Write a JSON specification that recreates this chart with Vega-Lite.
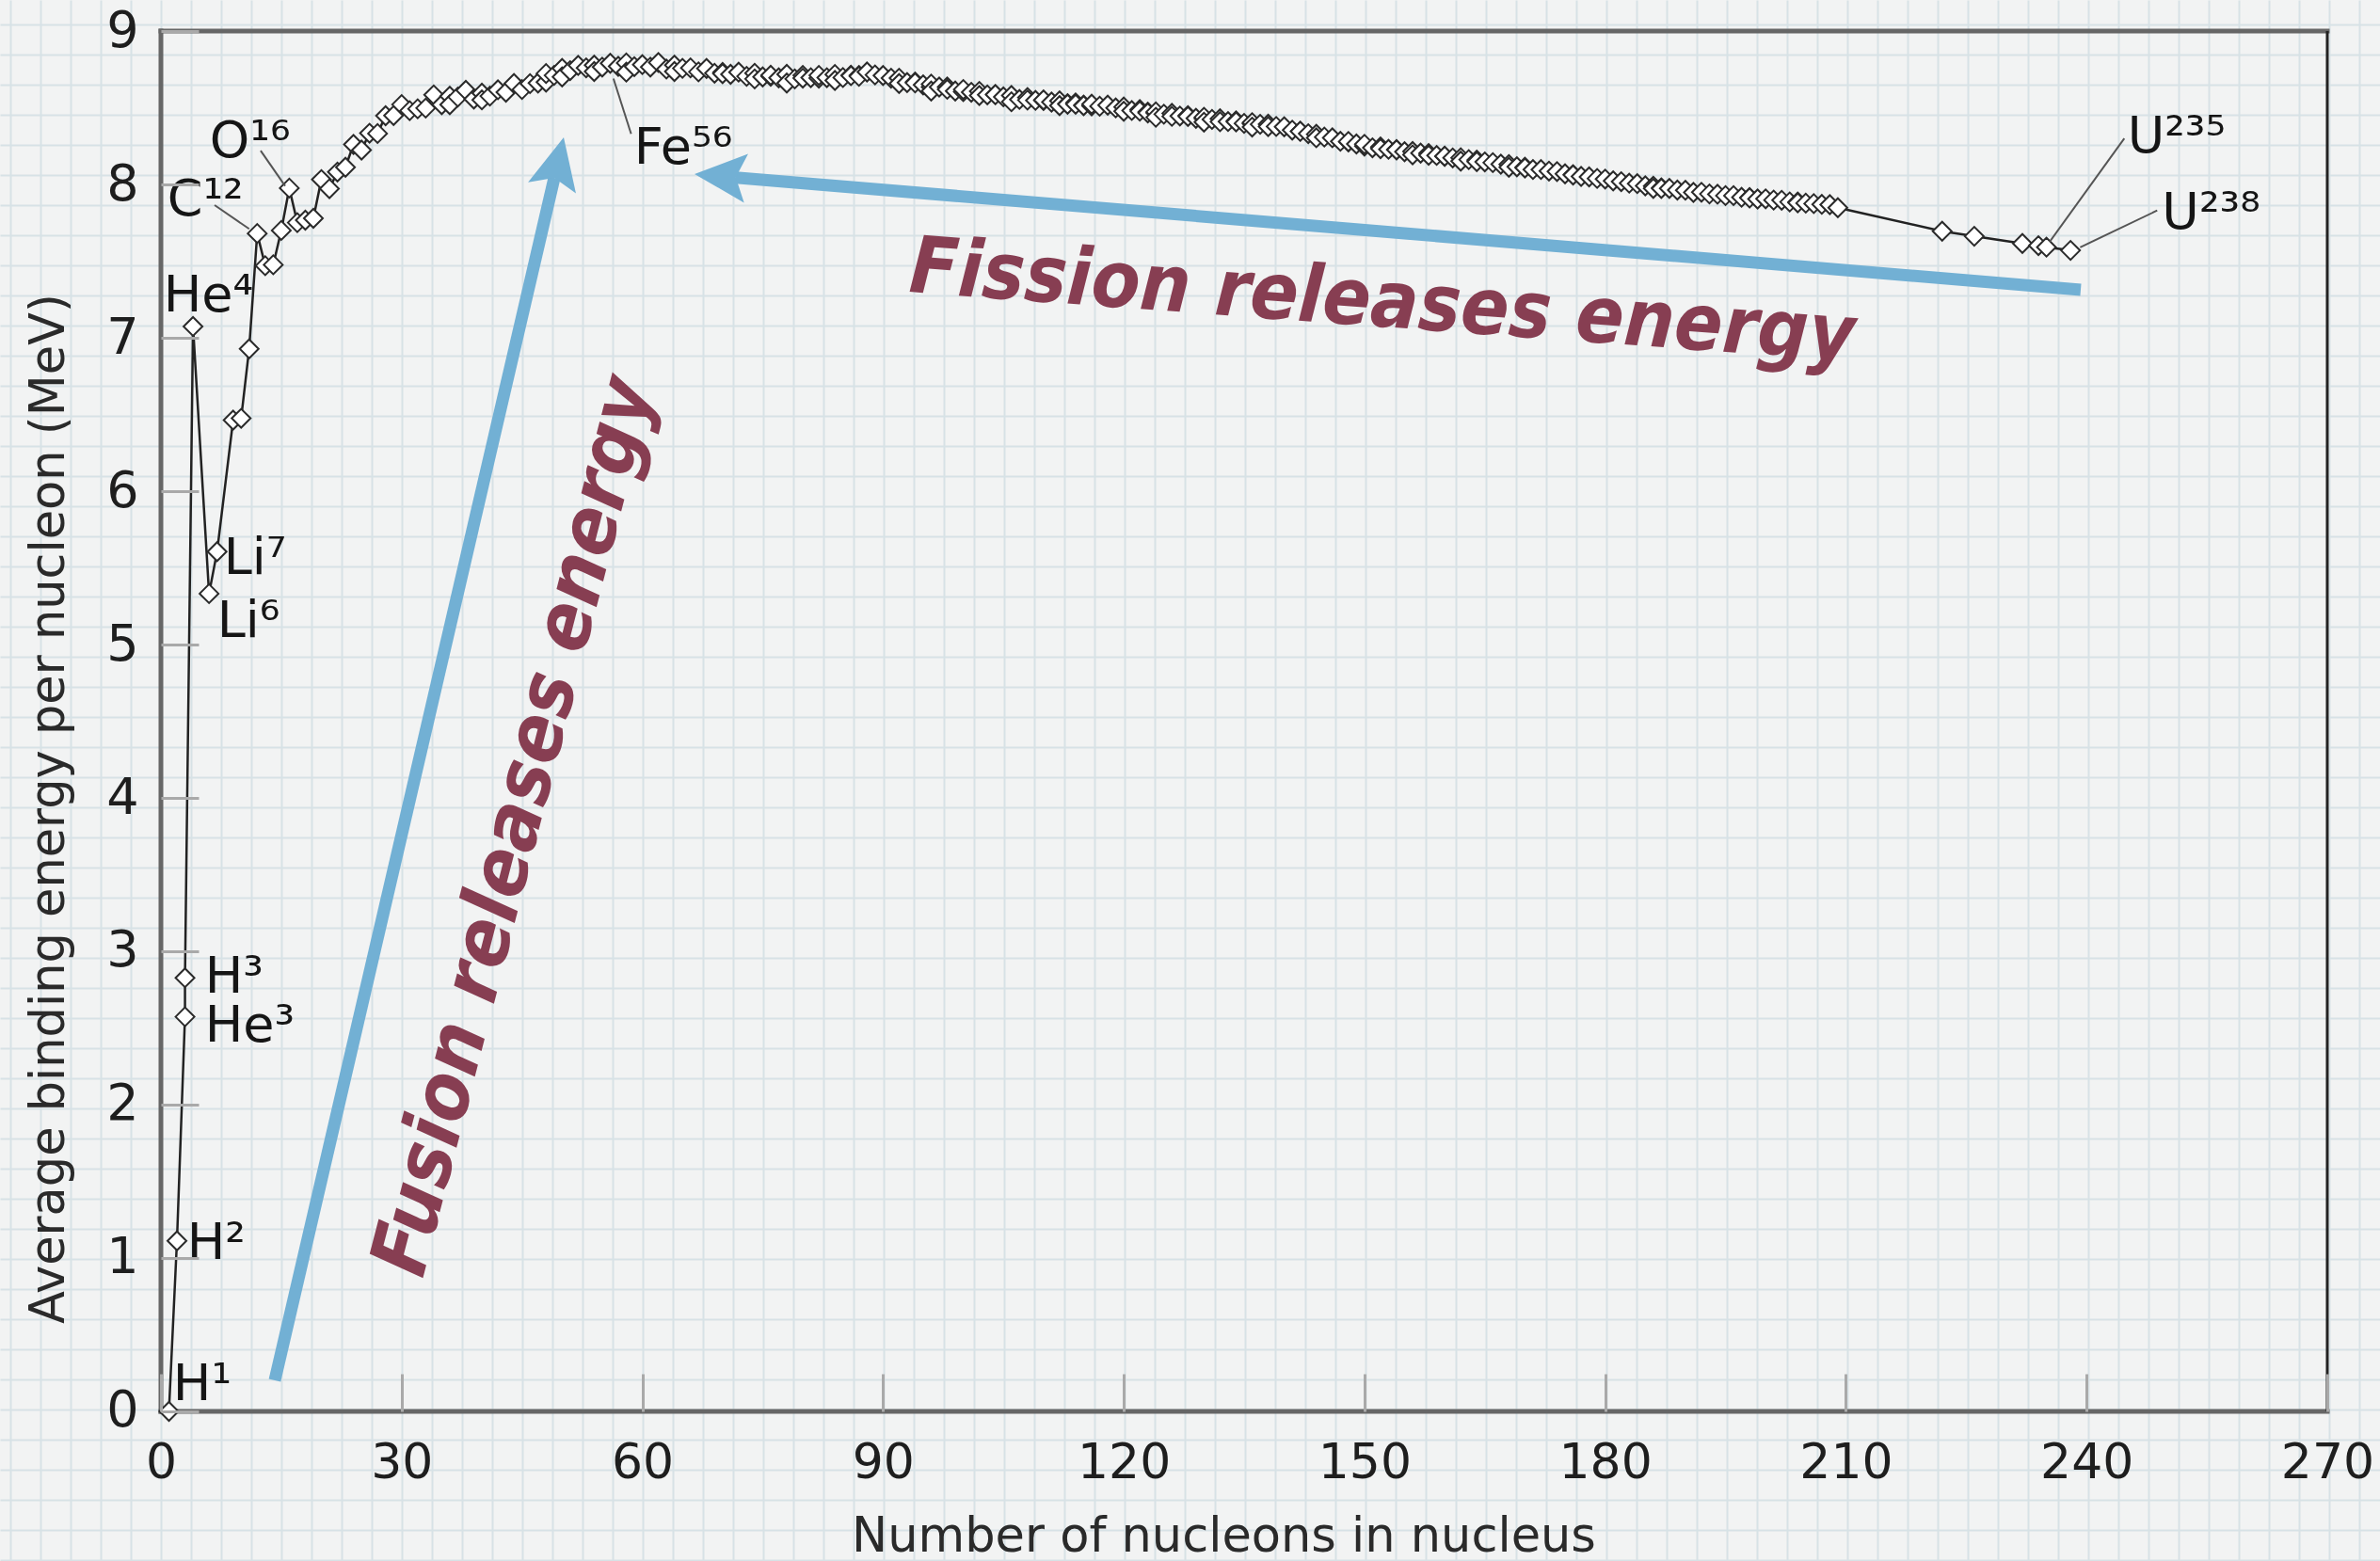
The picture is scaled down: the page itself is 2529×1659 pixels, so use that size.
{
  "$schema": "https://vega.github.io/schema/vega-lite/v6.json",
  "width": 2529,
  "height": 1659,
  "autosize": {"type": "none"},
  "padding": 0,
  "background": "#f2f3f3",
  "config": {
    "view": {"stroke": null},
    "axis": {"labelFont": "DejaVu Sans", "titleFont": "DejaVu Sans"},
    "text": {"font": "DejaVu Sans"}
  },
  "datasets": {
    "iso": [
      {"x":1,"y":0},{"x":2,"y":1.112},{"x":3,"y":2.573},{"x":3,"y":2.827},{"x":4,"y":7.074},
      {"x":6,"y":5.332},{"x":7,"y":5.606},{"x":9,"y":6.463},{"x":10,"y":6.475},{"x":11,"y":6.928},
      {"x":12,"y":7.680},{"x":13,"y":7.470},{"x":14,"y":7.476},{"x":15,"y":7.700},{"x":16,"y":7.976},
      {"x":17,"y":7.751},{"x":18,"y":7.767},{"x":19,"y":7.779},{"x":20,"y":8.032},{"x":21,"y":7.972},
      {"x":22,"y":8.081},{"x":23,"y":8.112},{"x":24,"y":8.261},{"x":25,"y":8.224},{"x":26,"y":8.334},
      {"x":27,"y":8.332},{"x":28,"y":8.448},{"x":29,"y":8.449},{"x":30,"y":8.521},{"x":31,"y":8.481},
      {"x":32,"y":8.493},{"x":33,"y":8.498},{"x":34,"y":8.584},{"x":35,"y":8.520},{"x":36,"y":8.575},
      {"x":36,"y":8.520},{"x":37,"y":8.570},{"x":38,"y":8.614},{"x":39,"y":8.557},{"x":40,"y":8.595},
      {"x":40,"y":8.551},{"x":41,"y":8.576},{"x":42,"y":8.617},{"x":43,"y":8.601},{"x":44,"y":8.658},
      {"x":45,"y":8.619},{"x":46,"y":8.657},{"x":47,"y":8.661},{"x":48,"y":8.667},{"x":48,"y":8.723},
      {"x":49,"y":8.711},{"x":50,"y":8.756},{"x":50,"y":8.701},{"x":51,"y":8.742},{"x":52,"y":8.776},
      {"x":53,"y":8.760},{"x":54,"y":8.778},{"x":54,"y":8.736},{"x":55,"y":8.765},{"x":56,"y":8.790},
      {"x":57,"y":8.770},{"x":58,"y":8.792},{"x":58,"y":8.732},{"x":59,"y":8.768},{"x":60,"y":8.781},
      {"x":61,"y":8.765},{"x":62,"y":8.795},{"x":63,"y":8.752},{"x":64,"y":8.778},{"x":64,"y":8.736},
      {"x":65,"y":8.757},{"x":66,"y":8.760},{"x":67,"y":8.734},{"x":68,"y":8.756},{"x":69,"y":8.725},
      {"x":70,"y":8.730},{"x":70,"y":8.722},{"x":71,"y":8.718},{"x":72,"y":8.732},{"x":73,"y":8.705},
      {"x":74,"y":8.725},{"x":74,"y":8.688},{"x":75,"y":8.701},{"x":76,"y":8.705},{"x":76,"y":8.712},
      {"x":77,"y":8.695},{"x":78,"y":8.718},{"x":78,"y":8.661},{"x":79,"y":8.688},{"x":80,"y":8.711},
      {"x":80,"y":8.693},{"x":81,"y":8.696},{"x":82,"y":8.693},{"x":82,"y":8.711},{"x":83,"y":8.696},
      {"x":84,"y":8.717},{"x":84,"y":8.678},{"x":85,"y":8.697},{"x":86,"y":8.712},{"x":86,"y":8.709},
      {"x":87,"y":8.711},{"x":87,"y":8.705},{"x":88,"y":8.733},{"x":89,"y":8.714},{"x":90,"y":8.710},
      {"x":91,"y":8.693},{"x":92,"y":8.693},{"x":92,"y":8.658},{"x":93,"y":8.664},{"x":94,"y":8.667},
      {"x":94,"y":8.662},{"x":95,"y":8.649},{"x":96,"y":8.635},{"x":96,"y":8.654},{"x":96,"y":8.609},
      {"x":97,"y":8.635},{"x":98,"y":8.635},{"x":98,"y":8.620},{"x":99,"y":8.609},{"x":100,"y":8.605},
      {"x":100,"y":8.619},{"x":101,"y":8.601},{"x":102,"y":8.607},{"x":102,"y":8.580},{"x":103,"y":8.584},
      {"x":104,"y":8.587},{"x":104,"y":8.585},{"x":105,"y":8.571},{"x":106,"y":8.580},{"x":106,"y":8.539},
      {"x":107,"y":8.554},{"x":108,"y":8.567},{"x":108,"y":8.550},{"x":109,"y":8.548},{"x":110,"y":8.547},
      {"x":110,"y":8.551},{"x":111,"y":8.537},{"x":112,"y":8.545},{"x":112,"y":8.514},{"x":113,"y":8.527},
      {"x":113,"y":8.523},{"x":114,"y":8.532},{"x":114,"y":8.523},{"x":115,"y":8.517},{"x":115,"y":8.514},
      {"x":116,"y":8.512},{"x":116,"y":8.523},{"x":117,"y":8.510},{"x":118,"y":8.517},{"x":119,"y":8.499},
      {"x":120,"y":8.505},{"x":120,"y":8.477},{"x":121,"y":8.482},{"x":122,"y":8.488},{"x":122,"y":8.478},
      {"x":123,"y":8.472},{"x":123,"y":8.466},{"x":124,"y":8.467},{"x":124,"y":8.473},{"x":124,"y":8.438},
      {"x":125,"y":8.458},{"x":126,"y":8.463},{"x":126,"y":8.444},{"x":127,"y":8.446},{"x":128,"y":8.449},
      {"x":128,"y":8.443},{"x":129,"y":8.431},{"x":130,"y":8.430},{"x":130,"y":8.438},{"x":130,"y":8.406},
      {"x":131,"y":8.424},{"x":132,"y":8.428},{"x":132,"y":8.409},{"x":133,"y":8.410},{"x":134,"y":8.414},
      {"x":134,"y":8.408},{"x":135,"y":8.398},{"x":136,"y":8.396},{"x":136,"y":8.403},{"x":136,"y":8.374},
      {"x":137,"y":8.392},{"x":138,"y":8.393},{"x":138,"y":8.377},{"x":139,"y":8.378},{"x":140,"y":8.376},
      {"x":141,"y":8.354},{"x":142,"y":8.347},{"x":142,"y":8.346},{"x":143,"y":8.331},{"x":144,"y":8.327},
      {"x":144,"y":8.304},{"x":145,"y":8.309},{"x":146,"y":8.304},{"x":147,"y":8.281},{"x":148,"y":8.277},
      {"x":148,"y":8.280},{"x":149,"y":8.264},{"x":150,"y":8.250},{"x":150,"y":8.262},{"x":151,"y":8.239},
      {"x":152,"y":8.244},{"x":152,"y":8.233},{"x":153,"y":8.229},{"x":154,"y":8.227},{"x":154,"y":8.225},
      {"x":155,"y":8.213},{"x":156,"y":8.215},{"x":156,"y":8.193},{"x":157,"y":8.204},{"x":158,"y":8.202},
      {"x":158,"y":8.190},{"x":159,"y":8.189},{"x":160,"y":8.183},{"x":160,"y":8.184},{"x":161,"y":8.173},
      {"x":162,"y":8.174},{"x":162,"y":8.152},{"x":163,"y":8.162},{"x":164,"y":8.159},{"x":164,"y":8.149},
      {"x":165,"y":8.147},{"x":166,"y":8.142},{"x":167,"y":8.132},{"x":168,"y":8.130},{"x":168,"y":8.112},
      {"x":169,"y":8.115},{"x":170,"y":8.112},{"x":170,"y":8.107},{"x":171,"y":8.097},{"x":172,"y":8.097},
      {"x":173,"y":8.087},{"x":174,"y":8.084},{"x":175,"y":8.069},{"x":176,"y":8.064},{"x":176,"y":8.061},
      {"x":177,"y":8.052},{"x":178,"y":8.049},{"x":179,"y":8.039},{"x":180,"y":8.035},{"x":181,"y":8.023},
      {"x":182,"y":8.018},{"x":183,"y":8.008},{"x":184,"y":8.005},{"x":185,"y":7.991},{"x":186,"y":7.989},
      {"x":186,"y":7.974},{"x":187,"y":7.978},{"x":187,"y":7.974},{"x":188,"y":7.974},{"x":189,"y":7.963},
      {"x":190,"y":7.962},{"x":191,"y":7.948},{"x":192,"y":7.949},{"x":193,"y":7.938},{"x":194,"y":7.936},
      {"x":195,"y":7.927},{"x":196,"y":7.927},{"x":197,"y":7.916},{"x":198,"y":7.914},{"x":198,"y":7.912},
      {"x":199,"y":7.905},{"x":200,"y":7.906},{"x":201,"y":7.898},{"x":202,"y":7.897},{"x":203,"y":7.886},
      {"x":204,"y":7.886},{"x":204,"y":7.880},{"x":205,"y":7.878},{"x":206,"y":7.875},{"x":207,"y":7.870},
      {"x":208,"y":7.868},{"x":209,"y":7.848},{"x":222,"y":7.695},{"x":226,"y":7.662},{"x":232,"y":7.615},
      {"x":234,"y":7.601},{"x":235,"y":7.591},{"x":238,"y":7.570}
    ],
    "labels": [
      {"t":"H¹","x":1.5,"y":0.074},
      {"t":"H²","x":3.25,"y":0.994},
      {"t":"H³","x":5.48,"y":2.73},
      {"t":"He³","x":5.48,"y":2.41},
      {"t":"He⁴","x":0.32,"y":7.17},
      {"t":"Li⁷","x":7.83,"y":5.46},
      {"t":"Li⁶","x":7.01,"y":5.05},
      {"t":"C¹²","x":0.79,"y":7.80},
      {"t":"O¹⁶","x":6.07,"y":8.18},
      {"t":"Fe⁵⁶","x":58.97,"y":8.135},
      {"t":"U²³⁵","x":245.1,"y":8.21},
      {"t":"U²³⁸","x":249.4,"y":7.71}
    ],
    "leaders": [
      {"x":6.69,"y":7.865,"x2":11.0,"y2":7.71},
      {"x":12.43,"y":8.22,"x2":15.48,"y2":7.99},
      {"x":56.4,"y":8.69,"x2":58.6,"y2":8.33},
      {"x":235.4,"y":7.626,"x2":244.7,"y2":8.30},
      {"x":239.2,"y":7.59,"x2":248.8,"y2":7.83}
    ]
  },
  "resolve": {"axis": {"x": "independent", "y": "independent"}},
  "encoding": {
    "x": {"field": "x", "type": "quantitative", "scale": {"domain": [-20.056, 276.57], "nice": false, "zero": false}, "axis": null},
    "y": {"field": "y", "type": "quantitative", "scale": {"domain": [-0.9755, 9.2025], "nice": false, "zero": false}, "axis": null}
  },
  "layer": [
    {
      "data": {"values": [
        {"x":0,"y":9,"x2":270,"y2":9},
        {"x":0,"y":0,"x2":270,"y2":0},
        {"x":0,"y":0,"x2":0,"y2":9}
      ]},
      "mark": {"type": "rule", "color": "#666666", "strokeWidth": 5, "strokeCap": "square"},
      "encoding": {
        "x": {"field": "x", "type": "quantitative", "scale": {"domain": [-20.056, 276.57], "nice": false, "zero": false},
          "axis": {"orient": "bottom", "grid": true, "labels": false, "ticks": false, "domain": false, "title": null, "gridColor": "#d7e2e6", "gridWidth": 2, "zindex": 0,
            "values": [-18.77,-15.01,-11.26,-7.51,-3.75,0,3.75,7.51,11.26,15.01,18.77,22.52,26.27,30.03,33.78,37.53,41.29,45.04,48.79,52.54,56.30,60.05,63.80,67.56,71.31,75.06,78.82,82.57,86.32,90.08,93.83,97.58,101.34,105.09,108.84,112.60,116.35,120.10,123.86,127.61,131.36,135.12,138.87,142.62,146.37,150.13,153.88,157.63,161.39,165.14,168.89,172.65,176.40,180.15,183.91,187.66,191.41,195.17,198.92,202.67,206.43,210.18,213.93,217.69,221.44,225.19,228.95,232.70,236.45,240.20,243.96,247.71,251.46,255.22,258.97,262.72,266.48,270.23,273.98]}},
        "y": {"field": "y", "type": "quantitative", "scale": {"domain": [-0.9755, 9.2025], "nice": false, "zero": false},
          "axis": {"orient": "left", "grid": true, "labels": false, "ticks": false, "domain": false, "title": null, "gridColor": "#d7e2e6", "gridWidth": 2, "zindex": 0,
            "values": [-0.972,-0.775,-0.579,-0.383,-0.186,0.010,0.206,0.403,0.599,0.795,0.992,1.188,1.384,1.581,1.777,1.973,2.170,2.366,2.562,2.758,2.955,3.151,3.347,3.544,3.740,3.936,4.133,4.329,4.525,4.722,4.918,5.114,5.310,5.507,5.703,5.900,6.096,6.292,6.489,6.685,6.881,7.078,7.274,7.470,7.667,7.863,8.059,8.255,8.452,8.648,8.844,9.041]}},
        "x2": {"field": "x2"},
        "y2": {"field": "y2"}
      }
    },
    {
      "data": {"values": [{"x":270,"y":0,"y2":9}]},
      "mark": {"type": "rule", "color": "#222222", "strokeWidth": 3},
      "encoding": {"y2": {"field": "y2"}}
    },
    {
      "data": {"name": "iso"},
      "mark": {"type": "line", "color": "#222222", "strokeWidth": 2.5},
      "encoding": {
        "x": {"field": "x", "type": "quantitative", "scale": {"domain": [-20.056, 276.57], "nice": false, "zero": false},
          "axis": {"orient": "bottom", "offset": -159, "values": [0,30,60,90,120,150,180,210,240,270], "grid": false, "domain": false,
            "ticks": true, "tickSize": -40, "tickColor": "#a9a9a9", "tickWidth": 3,
            "labelFontSize": 52, "labelColor": "#1e1e1e", "labelPadding": 110, "labelBaseline": "alphabetic", "labelFlush": false, "labelOverlap": false,
            "title": "Number of nucleons in nucleus", "titleFontSize": 51, "titleFontWeight": "normal", "titleColor": "#2a2a2a",
            "titleX": 1300, "titleY": 148, "titleBaseline": "alphabetic", "titleAlign": "center", "zindex": 1}},
        "y": {"field": "y", "type": "quantitative", "scale": {"domain": [-0.9755, 9.2025], "nice": false, "zero": false},
          "axis": {"orient": "left", "offset": -171, "values": [0,1,2,3,4,5,6,7,8,9], "grid": false, "domain": false,
            "ticks": true, "tickSize": -40, "tickColor": "#a9a9a9", "tickWidth": 3,
            "labelFontSize": 54, "labelColor": "#1e1e1e", "labelPadding": 64, "labelOverlap": false, "labelFlush": false,
            "title": "Average binding energy per nucleon (MeV)", "titleFontSize": 51, "titleFontWeight": "normal", "titleColor": "#2a2a2a",
            "titleX": -104, "titleY": 859, "titleBaseline": "alphabetic", "titleAlign": "center", "titleAngle": 270, "zindex": 1}}
      }
    },
    {
      "data": {"name": "iso"},
      "mark": {"type": "point", "shape": "diamond", "size": 400, "filled": true, "fill": "#ffffff", "stroke": "#2a2a2a", "strokeWidth": 2, "opacity": 1}
    },
    {
      "data": {"name": "leaders"},
      "mark": {"type": "rule", "color": "#555555", "strokeWidth": 2},
      "encoding": {"x2": {"field": "x2"}, "y2": {"field": "y2"}}
    },
    {
      "data": {"name": "labels"},
      "mark": {"type": "text", "fontSize": 54, "color": "#151515", "align": "left", "baseline": "alphabetic"},
      "encoding": {"text": {"field": "t"}}
    },
    {
      "data": {"values": [
        {"x":14.19,"y":0.202,"x2":49.03,"y2":8.043},
        {"x":239.27,"y":7.313,"x2":71.65,"y2":8.045}
      ]},
      "mark": {"type": "rule", "color": "#72b0d4", "strokeWidth": 13, "strokeCap": "butt"},
      "encoding": {"x2": {"field": "x2"}, "y2": {"field": "y2"}}
    },
    {
      "data": {"values": [{"x":49.47,"y":8.142}]},
      "mark": {"type": "point", "shape": "M0,-1L0.95,1L0,0.6L-0.95,1Z", "size": 3025, "filled": true, "color": "#72b0d4", "opacity": 1, "strokeWidth": 0, "angle": 13.1}
    },
    {
      "data": {"values": [{"x":69.72,"y":8.054}]},
      "mark": {"type": "point", "shape": "M0,-1L0.95,1L0,0.6L-0.95,1Z", "size": 3025, "filled": true, "color": "#72b0d4", "opacity": 1, "strokeWidth": 0, "angle": -85.24}
    },
    {
      "data": {"values": [{"x":93.13,"y":7.30,"note":"Fission releases energy"}]},
      "mark": {"type": "text", "font": "DejaVu Sans Condensed, DejaVu Sans, sans-serif", "fontSize": 84, "fontWeight": "bold", "fontStyle": "italic", "color": "#873e52", "angle": 4.2, "align": "left", "baseline": "alphabetic"},
      "encoding": {"text": {"field": "note"}}
    },
    {
      "data": {"values": [{"x":32.6,"y":0.86,"note":"Fusion releases energy"}]},
      "mark": {"type": "text", "font": "DejaVu Sans Condensed, DejaVu Sans, sans-serif", "fontSize": 84, "fontWeight": "bold", "fontStyle": "italic", "color": "#873e52", "angle": -75.5, "align": "left", "baseline": "alphabetic"},
      "encoding": {"text": {"field": "note"}}
    }
  ]
}
